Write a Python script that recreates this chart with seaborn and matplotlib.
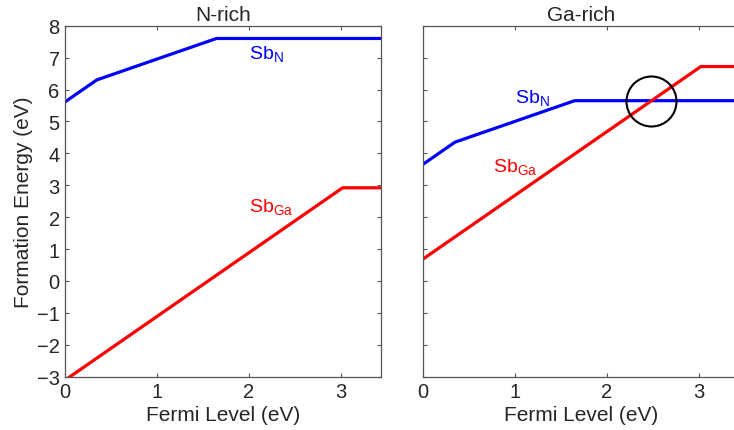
import numpy as np
import pandas as pd
import matplotlib
matplotlib.use("Agg")
import matplotlib.pyplot as plt
import seaborn as sns

# ---- data ----
x_sbn = [0.0, 0.35, 1.65, 3.44]
y_sbn_nrich = [5.6, 6.3, 7.6, 7.6]
y_sbn_garich = [3.65, 4.35, 5.65, 5.65]

x_sbga = [0.0, 3.02, 3.44]
y_sbga_nrich = [-3.12, 2.92, 2.92]
y_sbga_garich = [0.68, 6.72, 6.72]

panel_titles = ["N-rich", "Ga-rich"]
xticks = [0, 1, 2, 3]
yticks = [-3, -2, -1, 0, 1, 2, 3, 4, 5, 6, 7, 8]

# label positions (data coords, baseline) per panel
lab_sbn = [(2.0, 6.98), (1.0, 5.60)]
lab_sbga = [(2.0, 2.18), (0.76, 3.45)]
circle_center = (2.48, 5.65)

sns.set_style("ticks")
plt.rcParams["font.family"] = ["Liberation Sans", "DejaVu Sans"]
plt.rcParams["mathtext.fontset"] = "custom"
plt.rcParams["mathtext.rm"] = "Liberation Sans"
plt.rcParams["mathtext.it"] = "Liberation Sans:italic"

fig = plt.figure(figsize=(7.34, 4.31), dpi=100)
axL = fig.add_axes([64.5 / 734, 1 - 377.7 / 431, 316.8 / 734, 351 / 431])
axR = fig.add_axes([422.7 / 734, 1 - 377.7 / 431, 316.8 / 734, 351 / 431])

sets = [(y_sbn_nrich, y_sbga_nrich), (y_sbn_garich, y_sbga_garich)]
for i, (ax, (ysn, ysg)) in enumerate(zip([axL, axR], sets)):
    df_n = pd.DataFrame({"x": x_sbn, "y": ysn})
    df_g = pd.DataFrame({"x": x_sbga, "y": ysg})
    sns.lineplot(data=df_n, x="x", y="y", ax=ax, color="#0000ff", lw=2.3,
                 estimator=None, sort=False)
    sns.lineplot(data=df_g, x="x", y="y", ax=ax, color="#ff0000", lw=2.3,
                 estimator=None, sort=False)
    ax.set_xlim(0, 3.44)
    ax.set_ylim(-3, 8)
    ax.set_xticks(xticks)
    ax.set_yticks(yticks)
    ax.tick_params(direction="in", length=3, width=0.8, color="#555555",
                   top=True, right=True, labelsize=14.5)
    ax.tick_params(axis="x", pad=4)
    ax.tick_params(axis="y", pad=3.5)
    for s in ax.spines.values():
        s.set_color("#555555")
        s.set_linewidth(0.9)
    ax.set_title(panel_titles[i], fontsize=15, pad=4)
    ax.set_xlabel("Fermi Level (eV)", fontsize=15)
    ax.xaxis.set_label_coords(0.5, -0.082)
    ax.text(lab_sbn[i][0], lab_sbn[i][1], r"Sb$_{\mathrm{N}}$", color="#0000ff",
            fontsize=14, va="baseline", ha="left")
    ax.text(lab_sbga[i][0], lab_sbga[i][1], r"Sb$_{\mathrm{Ga}}$", color="#ff0000",
            fontsize=14, va="baseline", ha="left")

axL.set_ylabel("Formation Energy (eV)", fontsize=15)
axL.yaxis.set_label_coords(-0.10, 0.5)
axR.set_ylabel("")
axR.tick_params(labelleft=False)

axR.plot([circle_center[0]], [circle_center[1]], marker="o", markersize=36,
         markerfacecolor="none", markeredgecolor="black", markeredgewidth=1.5)

fig.savefig("out.png", dpi=100)
